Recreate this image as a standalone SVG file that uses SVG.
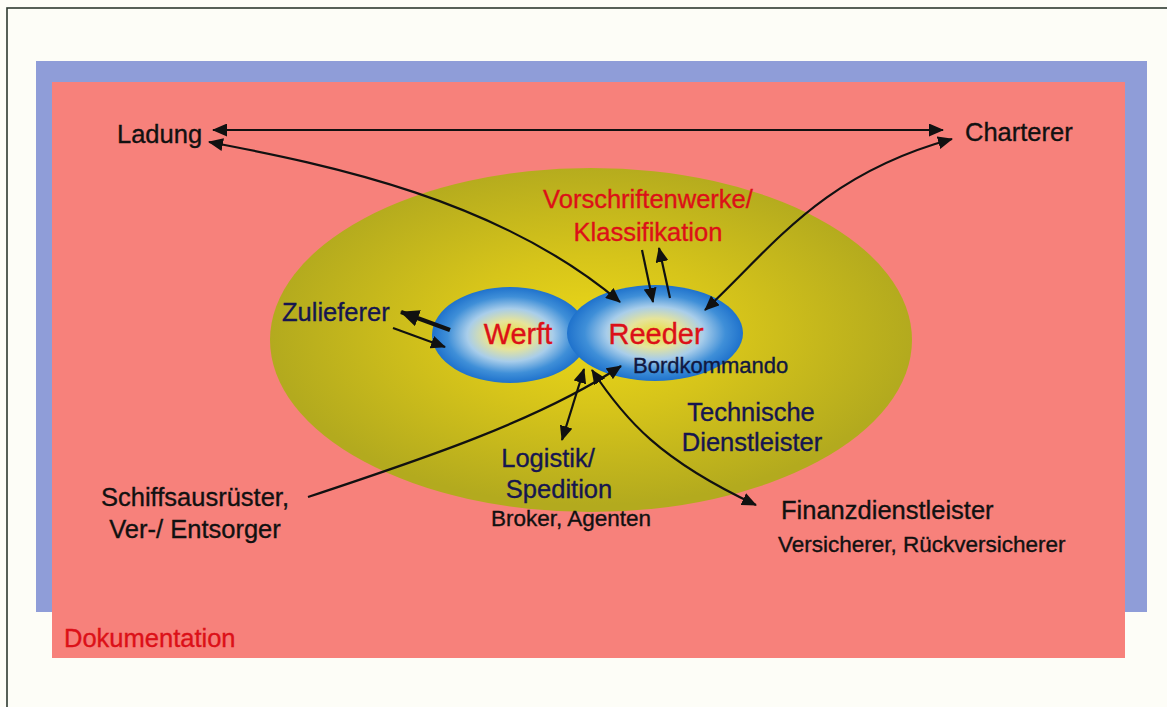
<svg xmlns="http://www.w3.org/2000/svg" width="1167" height="707" viewBox="0 0 1167 707">
  <style>
    text { font-family: "Liberation Sans", Arial, sans-serif; stroke-width: 0.35; }
    .lbl { font-size: 25.5px; fill: #111111; stroke: #111111; }
    .navy { font-size: 25.5px; fill: #161650; stroke: #161650; }
    .red { font-size: 25.5px; fill: #dc1018; stroke: #dc1018; }
    .big { font-size: 29px; fill: #dc1018; stroke: #dc1018; }
    .sub { font-size: 22.5px; fill: #111111; stroke: #111111; }
    .con { fill: none; stroke: #111111; stroke-width: 2.2; }
  </style>
  <defs>
    <radialGradient id="gOuter" cx="0.5" cy="0.48" r="0.5">
      <stop offset="0" stop-color="#ecd818"/>
      <stop offset="0.45" stop-color="#d6c41a"/>
      <stop offset="1" stop-color="#b3aa1e"/>
    </radialGradient>
    <radialGradient id="gCore" cx="0.5" cy="0.5" r="0.5">
      <stop offset="0" stop-color="#eadc3a"/>
      <stop offset="0.3" stop-color="#e6e49a"/>
      <stop offset="0.55" stop-color="#a8cdea"/>
      <stop offset="0.8" stop-color="#3f8fd8"/>
      <stop offset="1" stop-color="#1f72cc"/>
    </radialGradient>
    <marker id="ah" viewBox="0 0 15 13" markerWidth="15" markerHeight="13" refX="14" refY="6.5" orient="auto-start-reverse" markerUnits="userSpaceOnUse">
      <path d="M0,0 L15,6.5 L0,13 z" fill="#111111"/>
    </marker>
    <marker id="ahBig" viewBox="0 0 19 17" markerWidth="19" markerHeight="17" refX="18" refY="8.5" orient="auto" markerUnits="userSpaceOnUse">
      <path d="M0,0 L19,8.5 L0,17 z" fill="#111111"/>
    </marker>
  </defs>

  <!-- page -->
  <rect x="0" y="0" width="1167" height="707" fill="#fdfdf7"/>
  <rect x="7" y="8" width="1175" height="720" fill="none" stroke="#2e3a30" stroke-width="1.6"/>

  <!-- backdrop panels -->
  <rect id="shadow" x="36" y="61" width="1111" height="551" fill="#8f9dd8"/>
  <rect id="panel" x="52" y="82" width="1073" height="576" fill="#f7817b"/>

  <!-- environment oval -->
  <g id="umfeld">
    <ellipse cx="591" cy="340" rx="321" ry="172" fill="url(#gOuter)"/>
  </g>

  <!-- core: yard and owner -->
  <g id="werft">
    <ellipse cx="510" cy="335" rx="78" ry="48" fill="url(#gCore)"/>
    <text class="big" x="518" y="344" text-anchor="middle">Werft</text>
  </g>
  <g id="reeder">
    <ellipse cx="655" cy="333" rx="88" ry="48" fill="url(#gCore)"/>
    <text class="big" x="656" y="344" text-anchor="middle">Reeder</text>
    <text x="633" y="373" style="font-size:22px;fill:#111840;stroke:#111840">Bordkommando</text>
  </g>

  <!-- surrounding parties -->
  <g id="ladung"><text class="lbl" x="117" y="143">Ladung</text></g>
  <g id="charterer"><text class="lbl" x="965" y="141">Charterer</text></g>
  <g id="vorschriften">
    <text class="red" x="648" y="208" text-anchor="middle">Vorschriftenwerke/</text>
    <text class="red" x="648" y="241" text-anchor="middle">Klassifikation</text>
  </g>
  <g id="zulieferer"><text class="navy" x="282" y="321">Zulieferer</text></g>
  <g id="technik">
    <text class="navy" x="751" y="421" text-anchor="middle">Technische</text>
    <text class="navy" x="752" y="451" text-anchor="middle">Dienstleister</text>
  </g>
  <g id="logistik">
    <text class="navy" x="548" y="467" text-anchor="middle">Logistik/</text>
    <text class="navy" x="559" y="498" text-anchor="middle">Spedition</text>
    <text class="sub" x="571" y="526" text-anchor="middle">Broker, Agenten</text>
  </g>
  <g id="ausruester">
    <text class="lbl" x="195" y="506" text-anchor="middle">Schiffsausrüster,</text>
    <text class="lbl" x="195" y="538" text-anchor="middle">Ver-/ Entsorger</text>
  </g>
  <g id="finanz">
    <text class="lbl" x="781" y="519">Finanzdienstleister</text>
    <text class="sub" x="778" y="552">Versicherer, Rückversicherer</text>
  </g>
  <g id="dokumentation"><text class="red" x="64" y="647">Dokumentation</text></g>

  <!-- connectors -->
  <g id="connectors">
    <path class="con" d="M213,130 L943,130" marker-start="url(#ah)" marker-end="url(#ah)"/>
    <path class="con" d="M209,142 C330,165 500,200 620,302" marker-start="url(#ah)" marker-end="url(#ah)"/>
    <path class="con" d="M705,310 C770,250 820,175 952,139" marker-start="url(#ah)" marker-end="url(#ah)"/>
    <path class="con" d="M642,250 L653,302" marker-end="url(#ah)"/>
    <path class="con" d="M670,298 L659,248" marker-end="url(#ah)"/>
    <path class="con" d="M450,330 L401,312" style="stroke-width:4.5" marker-end="url(#ahBig)"/>
    <path class="con" d="M393,328 L445,347" marker-end="url(#ah)"/>
    <path class="con" d="M308,497 C420,460 540,420 621,366" marker-end="url(#ah)"/>
    <path class="con" d="M562,440 L584,369" marker-start="url(#ah)" marker-end="url(#ah)"/>
    <path class="con" d="M592,370 C625,420 660,460 756,505" marker-start="url(#ah)" marker-end="url(#ah)"/>
  </g>
</svg>
